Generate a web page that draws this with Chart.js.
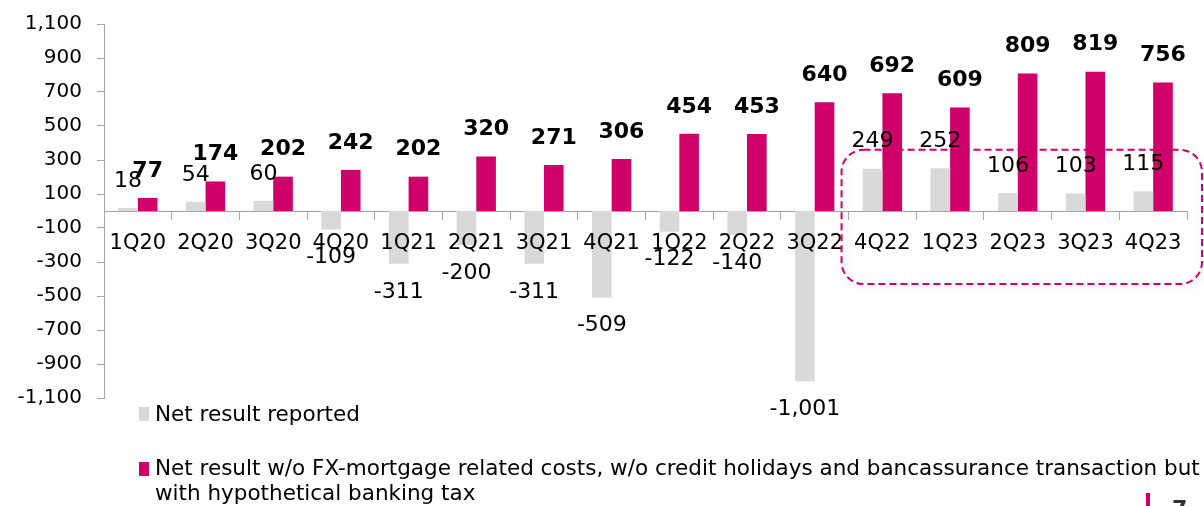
<!DOCTYPE html>
<html>
<head>
<meta charset="utf-8">
<script src="https://cdn.jsdelivr.net/npm/chart.js@4"></script>
<style>
  html, body { margin: 0; padding: 0; background: #fff; }
  #wrap { position: relative; width: 1204px; height: 506px; }
</style>
</head>
<body>
<div id="wrap"><canvas id="myChart" width="1204" height="506"></canvas></div>
<script>
const quarters = ['1Q20', '2Q20', '3Q20', '4Q20', '1Q21', '2Q21', '3Q21', '4Q21',
                  '1Q22', '2Q22', '3Q22', '4Q22', '1Q23', '2Q23', '3Q23', '4Q23'];
const reported = [18, 54, 60, -109, -311, -200, -311, -509, -122, -140, -1001, 249, 252, 106, 103, 115];
const adjusted = [77, 174, 202, 242, 202, 320, 271, 306, 454, 453, 640, 692, 609, 809, 819, 756];
const seriesNames = [
    'Net result reported',
    'Net result w/o FX-mortgage related costs, w/o credit holidays and bancassurance transaction but',
    'with hypothetical banking tax'
];

const GREY = '#d9d9d9';
const PINK = '#d0006a';
const FONT = '"DejaVu Sans", sans-serif';

document.addEventListener('DOMContentLoaded', function() {
    const ctx = document.getElementById('myChart').getContext('2d');

    const extras = {
        id: 'extras',
        afterDraw(chart) {
            const c = chart.ctx;
            const xs = chart.scales.x;
            const ys = chart.scales.y;
            c.save();

            // highlight box around the last quarters
            const bx = xs.getPixelForValue(10.5) - 7;
            const by = ys.getPixelForValue(360);
            const bw = 1202 - bx;
            const bh = ys.getPixelForValue(-430) - by;
            c.save();
            c.shadowColor = 'rgba(0,0,0,0.18)';
            c.shadowBlur = 8;
            c.shadowOffsetX = 2;
            c.shadowOffsetY = 2;
            c.strokeStyle = PINK;
            c.lineWidth = 2;
            c.setLineDash([7, 4]);
            c.beginPath();
            c.roundRect(bx, by, bw, bh, 22);
            c.stroke();
            c.restore();

            // value labels
            c.textAlign = 'center';
            c.textBaseline = 'middle';
            c.fillStyle = '#000';
            chart.data.datasets.forEach(function(ds, i) {
                const meta = chart.getDatasetMeta(i);
                c.font = (i === 1 ? 'bold ' : '') + '22px ' + FONT;
                meta.data.forEach(function(el, j) {
                    const v = ds.data[j];
                    const y = v >= 0 ? el.y - 27 : el.y + 28;
                    c.fillText(v.toLocaleString('en-US'), el.x, y);
                });
            });

            // legend
            c.textAlign = 'left';
            c.font = '21.5px ' + FONT;
            c.fillStyle = GREY;
            c.fillRect(139, 407, 10, 14);
            c.fillStyle = PINK;
            c.fillRect(139, 462, 10, 14);
            c.fillStyle = '#000';
            c.fillText(seriesNames[0], 155, 415);
            c.fillText(seriesNames[1], 155, 469);
            c.fillText(seriesNames[2], 155, 494);

            // page marker
            c.fillStyle = PINK;
            c.fillRect(1146, 493, 4, 13);
            c.fillStyle = '#333';
            c.font = 'bold 22px ' + FONT;
            c.fillText('7', 1172, 510);
            c.restore();
        }
    };

    new Chart(ctx, {
        type: 'bar',
        data: {
            labels: quarters,
            datasets: [
                { label: seriesNames[0], data: reported, backgroundColor: GREY },
                { label: seriesNames[1], data: adjusted, backgroundColor: PINK }
            ]
        },
        options: {
            responsive: false,
            animation: false,
            datasets: { bar: { categoryPercentage: 0.58, barPercentage: 1.0 } },
            layout: { padding: { left: 0, top: 24, right: 17, bottom: 108 } },
            plugins: { legend: { display: false }, tooltip: { enabled: false } },
            scales: {
                x: {
                    position: { y: 0 },
                    grid: { display: true, drawOnChartArea: false, drawTicks: true, tickLength: 8, color: '#a6a6a6', offset: true },
                    border: { display: true, color: '#a6a6a6', width: 1 },
                    ticks: { z: 1, color: '#000', font: { family: FONT, size: 21 }, padding: 12, maxRotation: 0, autoSkip: false }
                },
                y: {
                    min: -1100,
                    max: 1100,
                    afterFit(scale) {
                        scale.width = 104;
                        scale.paddingTop = 0;
                        scale.paddingBottom = 0;
                    },
                    grid: { display: true, drawOnChartArea: false, drawTicks: true, tickLength: 7, color: '#a6a6a6' },
                    border: { display: true, color: '#a6a6a6', width: 1 },
                    ticks: {
                        stepSize: 200,
                        color: '#000',
                        font: { family: FONT, size: 20 },
                        padding: 15,
                        callback: v => v.toLocaleString('en-US')
                    }
                }
            }
        },
        plugins: [extras]
    });
});
</script>
</body>
</html>
